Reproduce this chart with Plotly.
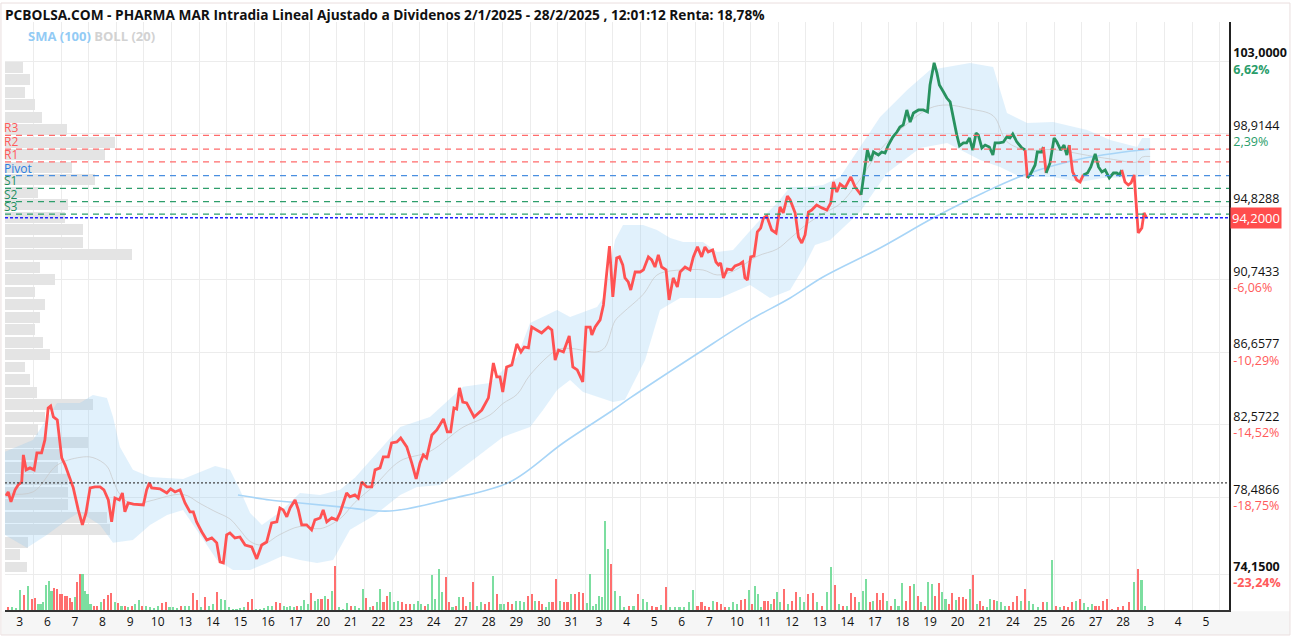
import numpy as np
import plotly.graph_objects as go

# ---------------- data ----------------
# time in trading-day units (slot index + fraction of session), price in EUR
price_t = [0.00,0.08,0.18,0.33,0.44,0.57,0.63,0.73,0.87,1.02,1.12,1.29,1.41,1.53,1.62,1.72,1.86,2.02,2.14,2.32,2.44,2.62,2.77,2.90,
           3.05,3.23,3.41,3.55,3.71,3.83,3.95,4.11,4.22,4.31,4.43,4.62,4.98,5.10,5.20,5.28,5.58,5.83,5.97,6.13,6.31,6.49,6.67,6.79,
           6.91,7.10,7.28,7.46,7.64,7.76,7.88,8.00,8.12,8.30,8.48,8.67,8.91,9.09,9.27,9.45,9.63,9.82,9.93,10.05,10.18,10.30,10.48,
           10.60,10.72,10.90,11.08,11.20,11.39,11.50,11.63,11.81,11.99,12.11,
           12.35,12.47,12.65,12.77,12.90,13.08,13.26,13.38,13.56,13.68,13.86,13.98,14.17,14.31,14.53,14.71,14.87,15.01,15.13,15.25,
           15.44,15.62,15.86,16.00,16.12,16.24,16.34,16.44,16.56,16.70,16.97,17.25,17.49,17.67,17.79,17.91,18.01,18.15,18.34,18.52,
           18.67,18.79,18.94,19.06,19.24,19.42,19.66,19.79,19.91,20.03,20.21,20.42,20.55,20.71,20.91,21.03,21.18,21.24,21.36,21.54,
           21.66,21.78,21.88,22.00,22.14,22.24,22.36,22.44,22.56,22.65,
           22.81,22.99,23.11,23.29,23.41,23.53,23.65,23.77,23.93,24.04,24.19,24.34,24.44,24.62,24.80,24.92,25.07,25.22,25.34,25.46,
           25.62,25.74,25.83,25.91,26.01,26.15,26.31,26.43,26.61,26.71,26.79,26.88,27.00,27.12,27.24,27.36,27.46,27.58,27.76,27.92,
           28.06,28.18,28.33,28.43,28.61,28.73,28.85,28.97,29.09,29.21,29.39,29.58,29.76,29.90,30.00,30.12,30.24,30.42,30.63,30.78,31.00,
           31.15,31.23,31.35,31.45,31.63,31.75,31.87,31.99,32.15,32.30,32.41,32.53,32.66,32.78,32.90,33.08,33.26,33.41,33.50,33.65,
           33.75,33.84,33.99,34.11,34.23,34.35,34.47,34.57,34.71,34.83,34.93,35.05,35.17,35.25,35.38,35.50,35.65,35.78,35.86,36.01,
           36.16,36.28,36.40,36.50,36.65,36.83,36.95,37.03,37.13,37.31,37.39,37.55,37.61,37.71,37.85,38.00,38.10,38.24,38.36,38.46,
           38.55,38.67,38.82,38.94,39.06,39.21,39.33,39.49,39.61,39.73,39.85,40.00,40.15,40.27,40.37,40.45,40.57,40.69,40.79,40.90,
           41.00,41.05,41.18,41.26,41.35]
price_v = [78.58,78.80,78.24,78.92,79.19,79.36,80.88,80.04,80.15,80.04,80.99,80.99,81.72,83.52,83.63,83.01,82.84,80.71,80.32,79.59,79.03,77.79,76.95,77.62,
           79.03,79.08,79.08,78.92,78.35,77.12,78.46,78.35,78.74,77.68,78.18,78.12,78.07,78.92,79.31,79.03,78.97,78.74,78.97,78.80,78.92,78.18,77.68,77.68,
           77.12,76.55,76.10,76.22,75.94,74.87,74.81,76.39,76.50,76.22,76.27,75.82,75.71,75.04,75.82,75.99,77.06,77.12,77.90,77.79,77.40,77.90,78.35,
           77.79,76.95,76.95,76.67,77.23,77.34,77.79,77.12,77.34,77.23,77.62,
           78.74,78.52,78.63,78.46,79.36,79.08,79.08,80.04,80.15,80.77,80.77,81.55,81.61,81.83,81.33,80.43,79.53,80.43,80.88,80.71,
           82.00,82.28,82.90,82.17,82.17,83.52,83.46,84.64,83.85,83.80,83.01,83.40,84.08,86.04,85.26,85.26,84.41,85.82,85.93,87.11,
           86.66,86.94,86.89,88.06,87.90,87.73,88.06,87.90,86.21,86.77,86.66,87.56,85.82,85.65,84.98,88.06,88.06,87.62,88.06,88.46,
           89.30,91.27,92.61,89.75,91.94,92.00,91.55,90.82,90.59,90.14,
           91.15,91.15,91.27,92.00,91.83,91.43,92.11,91.43,91.27,89.58,90.82,90.31,91.15,91.43,91.27,92.00,92.56,92.00,92.56,92.28,
           92.39,91.71,91.55,91.66,90.82,91.32,91.27,91.49,91.60,91.71,90.82,90.70,92.00,92.05,93.40,93.62,94.18,94.30,93.51,93.34,
           94.80,94.47,95.42,95.20,94.47,93.12,92.78,93.23,94.52,94.63,94.91,94.75,94.63,95.03,96.21,95.64,96.09,95.87,96.49,95.93,95.48,
           97.33,98.00,97.39,97.89,97.72,97.89,97.83,98.28,98.73,99.01,99.29,99.41,100.25,99.57,100.08,100.25,100.25,100.14,101.65,102.90,
           102.33,101.65,101.26,100.92,100.70,99.69,98.85,98.23,98.40,98.40,98.68,98.00,98.96,98.85,98.12,98.28,98.17,97.72,98.40,98.40,
           98.45,98.73,98.68,98.90,98.45,98.12,98.00,96.43,96.60,97.16,97.89,97.89,98.17,96.71,97.27,98.68,98.45,98.00,98.28,97.72,
           98.28,96.77,96.32,96.21,96.60,96.71,97.05,97.78,97.05,96.77,96.88,96.43,96.71,96.71,96.60,96.88,96.21,96.04,96.15,96.60,
           94.35,93.34,93.62,94.47,94.20]
green_spans = [(31.0, 36.97), (37.03, 37.62), (37.71, 38.56), (39.06, 39.95), (40.0, 40.46)]

boll_up_t = [-0.04,0.98,1.85,2.68,3.15,3.66,3.88,4.13,4.60,5.22,6.42,7.03,7.58,8.12,8.48,8.85,9.28,9.93,10.66,11.39,12.11,12.65,
             13.38,14.29,15.37,16.57,17.55,18.02,18.53,19.00,19.98,20.45,21.43,21.72,22.08,22.37,23.10,23.60,24.08,24.55,25.27,25.78,
             26.36,27.23,27.96,28.43,29.04,29.62,30.24,30.96,31.69,32.67,33.50,34.12,34.95,35.79,36.29,37.02,37.96,39.20,40.03,41.01,41.19,41.48]
boll_up_v = [81.05,81.72,83.80,83.80,84.25,84.08,83.01,81.33,80.04,79.64,79.53,79.92,80.26,80.04,78.92,77.62,76.95,77.68,78.74,78.63,78.92,79.59,
             80.88,82.45,83.01,84.70,84.92,85.65,86.38,88.29,89.02,88.63,89.19,89.86,92.95,93.79,93.79,93.51,93.06,92.84,92.84,92.28,
             92.39,93.90,95.03,95.93,95.93,96.04,96.49,98.17,99.86,101.37,102.49,102.66,102.89,102.66,100.08,99.52,99.57,99.13,98.56,98.17,98.68,98.68]
boll_lo_t = [-0.04,0.76,1.49,2.21,2.68,3.41,3.88,4.60,5.22,5.84,6.42,7.03,7.65,8.23,8.85,9.46,10.04,10.66,11.28,11.86,12.47,13.38,
             14.29,14.90,15.74,16.46,17.55,18.02,19.00,19.47,19.98,20.45,20.92,21.54,22.01,22.44,23.17,23.71,24.44,25.89,26.98,27.70,
             28.43,28.97,29.33,29.88,30.96,31.94,33.14,34.12,34.59,35.32,36.04,36.77,37.96,38.94,39.77,41.01,41.48]
boll_lo_v = [76.39,75.66,76.39,77.23,77.68,76.95,75.94,76.10,76.95,77.51,77.79,76.39,74.98,74.42,74.42,74.81,75.21,74.98,74.81,74.98,76.67,77.51,
             78.63,79.08,79.19,80.04,81.33,81.89,82.45,83.40,84.53,85.09,84.41,84.08,83.85,83.97,86.21,89.02,89.69,89.69,90.42,89.69,
             90.14,91.55,92.67,92.95,94.52,96.71,98.12,98.40,98.00,97.44,97.05,96.49,96.49,96.21,96.43,96.49,96.60]

sma_t = [8.41,9.57,10.66,12.11,13.92,16.10,18.27,20.20,22.01,22.63,25.16,26.98,28.43,29.62,31.69,33.61,35.42,37.02,39.12,41.48]
sma_v = [78.63,78.35,78.18,77.96,77.73,78.41,79.36,81.55,83.40,84.08,86.66,88.46,89.69,90.87,92.50,94.18,95.59,96.66,97.55,98.06]

# volume per session slot (positive = up bar, negative = down bar)
vol_slots = [
    [-3, 3, 2, 20, -15, 24, -11],
    [-12, 6, 6, 8, 25, 29, 19, -22, -21, -16],
    [-16, -14, -14, -12, -8, 13, -28, -36, 36, 19, 16],
    [6, -4, -4, 8, -11, -15, -17, 8],
    [-7, 4, -4, 3, -4, 6, 10, -4],
    [4, 3, 2, 4, -7, -8, 3],
    [3, 2, -4, 4, 4, -17, -10],
    [3, -13, 4, 6, -18, 11, 10],
    [3, 1, 1, 2, 3, -8, -11],
    [1, 1, 2, 4, 4, -8, -7],
    [4, 3, 4, 3, -4, 4, 10, 6],
    [-17, 9, 11, -11, 14, -11, 19, -44],
    [3, 1, 7, -4, 4, 2, 21],
    [-12, 3, -4, 8, 21, -8, -14, 18],
    [8, 9, -8, -6, -6, 6, 9],
    [6, -4, 6, 35, 11, 41, 18, -33],
    [-8, 3, -4, 13, -13, -4, 8, -28],
    [4, 8, -6, -8, 34, -16, 6],
    [6, -8, -6, 9, 9, 8, -14],
    [-16, 9, -9, -6, 3, 8, -8, -31],
    [9, -8, -8, 16, -16, -18, -17],
    [7, 36, 4, 6, 14, 13, 89, 61, -46],
    [19, 14, 3, -4, 4, -16],
    [11, 8, -4, -3, 5, -23],
    [3, 3, 3, 3, 8, 20],
    [-4, -8, -4, -3, 9, -8, -6],
    [-3, 3, 8, 6, -10, -11, 20],
    [-6, 24, 16, 3, -9, -9, 6, -11, 18],
    [8, -21, 6, -9, -18, 13, 8],
    [-16, -17, 8, -4, 18, 43],
    [-25, 6, -4, 4, -17, -13, 8],
    [19, 31, -8, 9, -17, -10, -17, 9],
    [-4, 11, 4, 27, -9, -24, 26],
    [-14, 8, -4, 28, 26, -14, -27, 18],
    [11, -6, -17, 10, -13, -13, -11, 21],
    [-35, 6, -9, -4, 3, 11, -10, 9],
    [8, 4, -4, -8, -14, 9, -21],
    [9, 6, 3, -8, 8, 50],
    [-4, 3, -4, -3, -8, 9, -11],
    [7, 3, 6, -4, -4, -9, -11],
    [-1, -3, -4, -8, 28],
    [-41, 30, 4, 0, 0, 0, 0, 0, 0],
]

# volume-at-price profile
prof_levels = [102.65,101.95,101.25,100.54,99.84,99.14,98.44,97.74,97.03,96.33,95.63,94.93,94.23,93.53,92.82,92.12,91.42,90.72,
               90.02,89.32,88.61,87.91,87.21,86.51,85.81,85.10,84.40,83.70,83.00,82.30,81.59,80.89,80.19,79.49,78.79,78.09,
               77.38,76.68,75.98,75.28,74.58]
prof_vol = [18,25,20,30,37,62,110,100,67,90,33,63,60,78,78,127,35,50,30,40,35,30,38,45,20,25,32,88,40,33,83,55,53,63,63,63,102,105,23,15,22]

pivot_names = ["R3", "R2", "R1", "Pivot", "S1", "S2", "S3"]
pivot_vals = [98.82, 98.05, 97.33, 96.56, 95.85, 95.10, 94.40]
last_price = 94.20
ref_price = 79.31

ytick_vals = [103.0, 98.9144, 94.8288, 90.7433, 86.6577, 82.5722, 78.4866, 74.15]
ytick_price = ["103,0000", "98,9144", "94,8288", "90,7433", "86,6577", "82,5722", "78,4866", "74,1500"]
ytick_pct = ["6,62%", "2,39%", "-1,84%", "-6,06%", "-10,29%", "-14,52%", "-18,75%", "-23,24%"]

day_labels = ["3","6","7","8","9","10","13","14","15","16","17","20","21","22","23","24","27","28","29","30","31",
              "3","4","5","6","7","10","11","12","13","14","17","18","19","20","21","24","25","26","27","28","3","4","5"]

title_text = "PCBOLSA.COM - PHARMA MAR Intradia Lineal Ajustado a Dividenos 2/1/2025 - 28/2/2025 , 12:01:12 Renta: 18,78%"

# ---------------- styles ----------------
RED = "#ff5252"
GREEN = "#28925f"
FONT = "Open Sans"
X_RANGE = [-0.036, 44.34]
Y_RANGE = [72.17, 105.19]
PX_PER_DAY = 27.58

fig = go.Figure()

# volume profile (horizontal bars from the left edge)
fig.add_trace(go.Bar(
    orientation="h", y=prof_levels, x=[v / PX_PER_DAY for v in prof_vol], base=X_RANGE[0],
    width=0.6, marker=dict(color="rgb(228,228,228)", line=dict(width=0)), hoverinfo="skip"))

# Bollinger band fill
fig.add_trace(go.Scatter(
    x=boll_up_t + boll_lo_t[::-1], y=boll_up_v + boll_lo_v[::-1],
    fill="toself", fillcolor="rgba(135,200,245,0.25)", line=dict(width=0), mode="lines", hoverinfo="skip"))
boll_mid = (np.array(boll_up_v) + np.interp(boll_up_t, boll_lo_t, boll_lo_v)) / 2
fig.add_trace(go.Scatter(x=boll_up_t, y=boll_mid, mode="lines",
                         line=dict(color="rgba(200,200,200,0.7)", width=1, shape="spline"), hoverinfo="skip"))

# SMA 100
fig.add_trace(go.Scatter(x=sma_t, y=sma_v, mode="lines",
                         line=dict(color="#a8d5f7", width=1.6, shape="spline"), hoverinfo="skip"))

# price line, coloured by segment
def is_green(m):
    return any(a <= m < b for a, b in green_spans)

segs = []
cur = [0]
cur_c = is_green((price_t[0] + price_t[1]) / 2)
for i in range(len(price_t) - 1):
    c = is_green((price_t[i] + price_t[i + 1]) / 2)
    if c != cur_c:
        segs.append((cur_c, cur))
        cur = [i]
        cur_c = c
    cur.append(i + 1)
segs.append((cur_c, cur))
for g, idx in segs:
    fig.add_trace(go.Scatter(x=[price_t[i] for i in idx], y=[price_v[i] for i in idx], mode="lines",
                             line=dict(color=GREEN if g else RED, width=2.8), hoverinfo="skip"))

# volume bars
vx_up, vy_up, vx_dn, vy_dn = [], [], [], []
for k, slot in enumerate(vol_slots):
    n = len(slot)
    for j, v in enumerate(slot):
        xpos = k + (j + 0.5) / n
        if v > 0:
            vx_up.append(xpos); vy_up.append(v)
        elif v < 0:
            vx_dn.append(xpos); vy_dn.append(-v)
fig.add_trace(go.Bar(x=vx_up, y=vy_up, yaxis="y2", width=0.075,
                     marker=dict(color="rgba(110,218,150,0.9)", line=dict(width=0)), hoverinfo="skip"))
fig.add_trace(go.Bar(x=vx_dn, y=vy_dn, yaxis="y2", width=0.075,
                     marker=dict(color="rgba(255,95,95,0.9)", line=dict(width=0)), hoverinfo="skip"))

# ---------------- shapes ----------------
shapes = []
# outer frame and bottom strip
shapes.append(dict(type="rect", xref="paper", yref="paper", x0=-0.0025, x1=1.0496, y0=-0.0425, y1=-0.002,
                   fillcolor="#f6f6f6", line=dict(width=0), layer="below"))
shapes.append(dict(type="rect", xref="paper", yref="paper", x0=-0.0033, x1=1.0498, y0=-0.0425, y1=1.0323,
                   line=dict(color="#eadede", width=1), layer="above"))
piv_colors = ["#ff6b6b"] * 3 + ["#4a8fe0"] + ["#2e9e6b"] * 3
for v, c in zip(pivot_vals, piv_colors):
    shapes.append(dict(type="line", xref="paper", yref="y", x0=0, x1=1, y0=v, y1=v,
                       line=dict(color=c, width=1.2, dash="6px,5px"), layer="above"))
shapes.append(dict(type="line", xref="paper", yref="y", x0=0, x1=1, y0=last_price, y1=last_price,
                   line=dict(color="#2020ff", width=1.5, dash="3px,2px"), layer="above"))
shapes.append(dict(type="line", xref="paper", yref="y", x0=0, x1=1, y0=ref_price, y1=ref_price,
                   line=dict(color="#444", width=1.4, dash="2px,2px"), layer="above"))

# ---------------- annotations ----------------
ann = []
ann.append(dict(xref="paper", yref="paper", x=0, y=1, xanchor="left", yanchor="bottom", xshift=-1, yshift=-3,
                text="<b>" + title_text + "</b>", showarrow=False, borderpad=0,
                font=dict(family=FONT, size=13.7, color="#111")))
ann.append(dict(xref="paper", yref="paper", x=0, y=1, xanchor="left", yanchor="top", xshift=21, yshift=-3,
                text="<b><span style='color:#93cbf5'>SMA (100)</span> <span style='color:#d2d2d2'>BOLL (20)</span></b>",
                showarrow=False, font=dict(family=FONT, size=13)))
for name, v, c in zip(pivot_names, pivot_vals, ["#ff5a5a"] * 3 + ["#2a7de1"] + ["#1f8f5f"] * 3):
    ann.append(dict(xref="paper", yref="y", x=0, y=v, xanchor="left", yanchor="bottom", xshift=-2, yshift=-2,
                    text=name, showarrow=False, borderpad=0,
                    font=dict(family=FONT, size=12, color=c)))
ann.append(dict(xref="paper", yref="y", x=1, y=last_price, xanchor="left", yanchor="middle", xshift=1,
                text="94,2000", showarrow=False, bgcolor="#ff4d4d", borderpad=1,
                font=dict(family=FONT, size=13, color="white")))

ticktext = []
for i, (p, q) in enumerate(zip(ytick_price, ytick_pct)):
    col = "#2a9d6a" if not q.startswith("-") else "#ff5a5a"
    bold = i in (0, len(ytick_price) - 1)
    ptxt = f"<b>{p}</b>" if bold else p
    qtxt = f"<b>{q}</b>" if bold else q
    ticktext.append(f"{ptxt}<br><span style='color:{col}'>{qtxt}</span>")

fig.update_layout(
    width=1295, height=638, autosize=False,
    margin=dict(l=5, r=66, t=22, b=28, pad=0),
    paper_bgcolor="white", plot_bgcolor="white",
    showlegend=False, bargap=0, barmode="overlay",
    font=dict(family=FONT, size=12, color="#111"),
    xaxis=dict(range=X_RANGE, showgrid=False, zeroline=False, showline=True, linecolor="#333", linewidth=2,
               tickvals=[i + 0.5 for i in range(len(day_labels))], ticktext=day_labels, ticks="",
               tickfont=dict(family=FONT, size=12, color="#111"),
               minor=dict(tickvals=list(range(1, 45)), showgrid=True, gridcolor="#ececec", gridwidth=1, ticks="")),
    yaxis=dict(range=Y_RANGE, side="right", showgrid=True, gridcolor="#ececec", zeroline=False,
               showline=True, linecolor="#222", linewidth=1.5, tickvals=ytick_vals, ticktext=ticktext, ticks="",
               tickfont=dict(family=FONT, size=12.5, color="#111")),
    yaxis2=dict(range=[0, 588], overlaying="y", visible=False, fixedrange=True),
    shapes=shapes, annotations=ann,
)

fig.write_html("out.html")
